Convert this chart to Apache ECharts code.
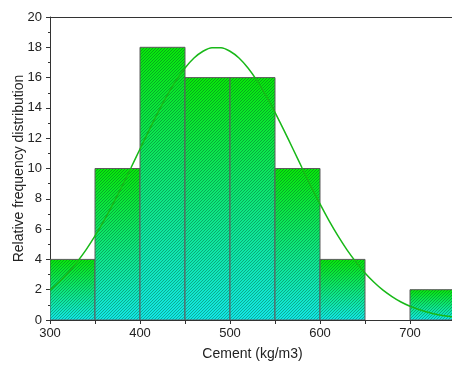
<!DOCTYPE html>
<html>
<head>
<meta charset="utf-8">
<script src="https://cdn.jsdelivr.net/npm/echarts@6/dist/echarts.min.js"></script>
<style>html,body{margin:0;padding:0;background:#fff;}#c{width:452px;height:365px;}</style>
</head>
<body>
<div id="c"></div>
<script>
// Histogram bins
var binStart = [300, 350, 400, 450, 500, 550, 600, 700];
var binEnd   = [350, 400, 450, 500, 550, 600, 650, 750];
var freq     = [4, 10, 18, 16, 16, 10, 4, 2];
// Fitted normal curve
var curveX = [300, 310, 320, 330, 340, 350, 360, 370, 380, 390, 400, 410, 420, 430, 440, 450, 460, 470, 480, 490,
              500, 510, 520, 530, 540, 550, 560, 570, 580, 590, 600, 610, 620, 630, 640, 650, 660, 670, 680, 690,
              700, 710, 720, 730, 740, 750];
var curveY = [1.97, 2.49, 3.10, 3.82, 4.63, 5.55, 6.56, 7.66, 8.83, 10.05, 11.29, 12.52, 13.70, 14.81, 15.80, 16.63, 17.29, 17.74, 17.97, 17.97,
              17.74, 17.29, 16.63, 15.80, 14.81, 13.70, 12.52, 11.29, 10.05, 8.83, 7.66, 6.56, 5.55, 4.63, 3.82, 3.10, 2.49, 1.97, 1.55, 1.19,
              0.91, 0.69, 0.51, 0.37, 0.27, 0.19];
var xTicks = [300, 400, 500, 600, 700];
var yTicks = [0, 2, 4, 6, 8, 10, 12, 14, 16, 18, 20];

var hatch = document.createElement('canvas');
hatch.width = 3; hatch.height = 3;
(function(){
  var g = hatch.getContext('2d');
  g.fillStyle = 'rgba(0,70,40,0.38)';
  for (var i = 0; i < 3; i++) g.fillRect(i, 2 - i, 1, 1);
})();

var bars = binStart.map(function(s, i){ return [s, binEnd[i], freq[i]]; });
var curve = curveX.map(function(x, i){ return [x, curveY[i]]; });

var chart = echarts.init(document.getElementById('c'));
var font = 'Liberation Sans, Arial, sans-serif';
chart.setOption({
  animation: false,
  grid: {left: 50, width: 405, top: 17, bottom: 45, containLabel: false, outerBoundsMode: 'none'},
  xAxis: [{
    type: 'value', min: 300, max: 750, interval: 100,
    name: 'Cement (kg/m3)', nameLocation: 'middle', nameGap: 27,
    nameTextStyle: {fontFamily: font, fontSize: 14, color: '#222'},
    axisLine: {show: true, lineStyle: {color: '#333', width: 1}},
    axisTick: {show: true, length: 4, lineStyle: {color: '#333'}},
    minorTick: {show: true, splitNumber: 2, length: 4, lineStyle: {color: '#333'}},
    axisLabel: {fontFamily: font, fontSize: 13, color: '#222', margin: 7, showMaxLabel: false,
      formatter: function(v){ return xTicks.indexOf(v) >= 0 ? String(v) : ''; }},
    splitLine: {show: false}
  }, {
    type: 'value', position: 'top', min: 300, max: 750,
    axisLine: {show: true, onZero: false, lineStyle: {color: '#333', width: 1}},
    axisTick: {show: false}, axisLabel: {show: false}, splitLine: {show: false}
  }],
  yAxis: {
    type: 'value', min: 0, max: 20, interval: 2,
    name: 'Relative frequency distribution', nameLocation: 'middle', nameGap: 24, nameMoveOverlap: false,
    nameTextStyle: {fontFamily: font, fontSize: 14, color: '#222'},
    axisLine: {show: true, lineStyle: {color: '#333', width: 1}},
    axisTick: {show: true, length: 4, lineStyle: {color: '#333'}},
    minorTick: {show: true, splitNumber: 2, length: 2, lineStyle: {color: '#333'}},
    axisLabel: {fontFamily: font, fontSize: 13, color: '#222', margin: 8,
      formatter: function(v){ return yTicks.indexOf(v) >= 0 ? String(v) : ''; }},
    splitLine: {show: false}
  },
  series: [{
    type: 'custom',
    data: bars,
    clip: true,
    renderItem: function(params, api){
      var p0 = api.coord([api.value(0), api.value(2)]);
      var p1 = api.coord([api.value(1), 0]);
      var shape = {x: p0[0], y: p0[1], width: p1[0] - p0[0], height: p1[1] - p0[1]};
      return {type: 'group', children: [
        {type: 'rect', shape: shape, style: {fill: new echarts.graphic.LinearGradient(0, 0, 0, 1, [
          {offset: 0, color: '#08e808'}, {offset: 1, color: '#12e8e8'}])}},
        {type: 'rect', shape: shape, style: {fill: {image: hatch, repeat: 'repeat'}, stroke: '#5c5c5c', lineWidth: 1}}
      ]};
    }
  }, {
    type: 'line', data: curve, smooth: 0.2, showSymbol: false, symbol: 'none',
    lineStyle: {color: '#18b818', width: 1.5}
  }]
});
</script>
</body>
</html>
